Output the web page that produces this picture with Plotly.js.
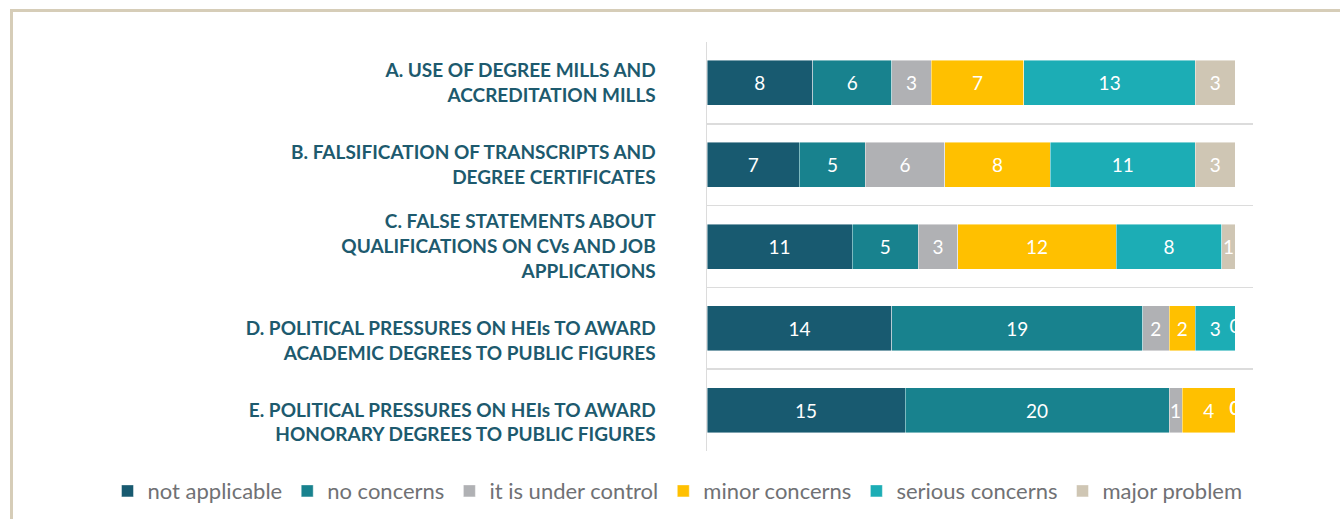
<!DOCTYPE html>
<html>
<head>
<meta charset="utf-8">
<script src="https://cdn.plot.ly/plotly-3.0.1.min.js"></script>
<style>
  html, body { margin: 0; padding: 0; background: #ffffff; }
  #frame { position: absolute; left: 10px; top: 9px; width: 1330px; height: 510px;
           border-top: 3px solid #d6cdb8; border-left: 3px solid #d6cdb8; }
  #chart { position: absolute; left: 0; top: 0; width: 1340px; height: 519px; }
</style>
</head>
<body>
<div id="frame"></div>
<div id="chart"></div>
<script>
const categories = ["A", "B", "C", "D", "E"];
const categoryLabels = [
  "A. USE OF DEGREE MILLS AND<br>ACCREDITATION MILLS",
  "B. FALSIFICATION OF TRANSCRIPTS AND<br>DEGREE CERTIFICATES",
  "C. FALSE STATEMENTS ABOUT<br>QUALIFICATIONS ON CVs AND JOB<br>APPLICATIONS",
  "<br>D. POLITICAL PRESSURES ON HEIs TO AWARD<br>ACADEMIC DEGREES TO PUBLIC FIGURES",
  "<br>E. POLITICAL PRESSURES ON HEIs TO AWARD<br>HONORARY DEGREES TO PUBLIC FIGURES"
];
const seriesNames = ["not applicable", "no concerns", "it is under control", "minor concerns", "serious concerns", "major problem"];
const notApplicable   = [8, 7, 11, 14, 15];
const noConcerns      = [6, 5, 5, 19, 20];
const underControl    = [3, 6, 3, 2, 1];
const minorConcerns   = [7, 8, 12, 2, 4];
const seriousConcerns = [13, 11, 8, 3, 0];
const majorProblem    = [3, 3, 1, 0, 0];
const colors = ["#185a70", "#18828e", "#b0b1b4", "#ffc000", "#1cadb5", "#cfc6b4"];

const seriesValues = [notApplicable, noConcerns, underControl, minorConcerns, seriousConcerns, majorProblem];
const labelFont = { family: "Lato, 'Open Sans', sans-serif", size: 19, color: "#ffffff" };

const traces = seriesValues.map((vals, i) => ({
  type: "bar",
  orientation: "h",
  name: seriesNames[i],
  y: categories,
  x: vals,
  text: vals.map(v => v === 0 ? "" : String(v)),
  textposition: "inside",
  insidetextanchor: "middle",
  textangle: 0,
  constraintext: "none",
  textfont: labelFont,
  marker: { color: colors[i], line: { color: "rgba(255,255,255,0.55)", width: 0.8 } },
  hoverinfo: "x+name"
}));

// labels for zero-valued segments, placed at their (zero-width) position
const zx = [], zy = [], zt = [];
categories.forEach((c, ci) => {
  let cum = 0;
  seriesValues.forEach(vals => {
    cum += vals[ci];
    if (vals[ci] === 0) { zx.push(cum); zy.push(c); zt.push("0"); }
  });
});
traces.push({
  type: "scatter", mode: "text", x: zx, y: zy, text: zt,
  textposition: "middle center", cliponaxis: false, showlegend: false, hoverinfo: "skip",
  textfont: labelFont
});

const layout = {
  width: 1340, height: 519,
  margin: { l: 707, r: 87, t: 42, b: 68, autoexpand: false },
  paper_bgcolor: "rgba(0,0,0,0)",
  plot_bgcolor: "rgba(0,0,0,0)",
  barmode: "stack",
  bargap: 0.45,
  showlegend: true,
  legend: {
    orientation: "h",
    x: -1.098, xanchor: "left", y: -0.098, yanchor: "middle",
    font: { family: "Lato, 'Open Sans', sans-serif", size: 22, color: "#707174" },
    traceorder: "normal", itemclick: false, itemdoubleclick: false
  },
  xaxis: {
    range: [0, 41.36], showgrid: false, zeroline: false, showticklabels: false,
    ticks: "", fixedrange: true
  },
  yaxis: {
    type: "category", autorange: "reversed", tickson: "boundaries",
    tickmode: "array", tickvals: categories, ticktext: categoryLabels,
    showgrid: true, gridcolor: "#dcdcdc", gridwidth: 1.5,
    showline: true, linecolor: "#dcdcdc", linewidth: 1.5, mirror: false,
    ticks: "", ticklabelstandoff: 46,
    tickfont: { family: "Lato, 'Noto Sans', sans-serif", size: 19, color: "#1d5a6e", weight: "bold" },
    fixedrange: true
  },
  font: { family: "Lato, sans-serif" }
};

Plotly.newPlot("chart", traces, layout, { displayModeBar: false, staticPlot: true });
</script>
</body>
</html>
